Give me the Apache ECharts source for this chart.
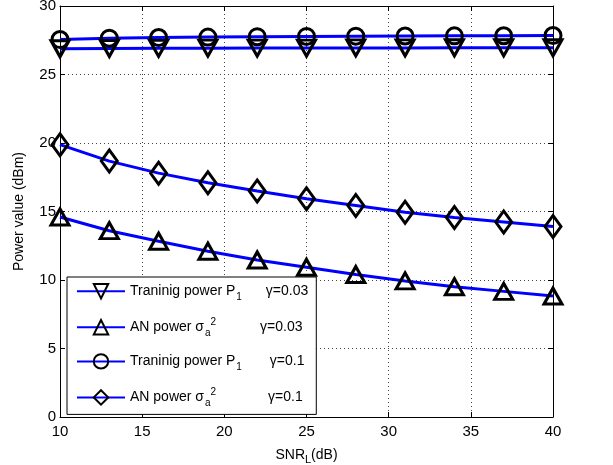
<!DOCTYPE html>
<html>
<head>
<meta charset="utf-8">
<script src="https://cdn.jsdelivr.net/npm/echarts@6/dist/echarts.min.js"></script>
<style>
  html, body { margin: 0; padding: 0; background: #fff; }
  #chart { width: 613px; height: 465px; }
</style>
</head>
<body>
<div id="chart"></div>
<script>
// SNR_L (dB) sample points
var snr = [10, 13, 16, 19, 22, 25, 28, 31, 34, 37, 40];

// power values (dBm)
var trainPowG003 = [26.88, 26.9, 26.91, 26.92, 26.93, 26.93, 26.94, 26.94, 26.95, 26.95, 26.95];
var anPowG003 = [14.6, 13.6, 12.83, 12.1, 11.46, 10.93, 10.4, 9.93, 9.51, 9.17, 8.83];
var trainPowG01 = [27.55, 27.65, 27.7, 27.73, 27.76, 27.78, 27.8, 27.81, 27.82, 27.83, 27.84];
var anPowG01 = [19.88, 18.68, 17.8, 17.1, 16.49, 15.93, 15.44, 14.95, 14.56, 14.24, 13.9];

var xTicks = { min: 10, max: 40, interval: 5 };
var yTicks = { min: 0, max: 30, interval: 5 };

var seriesNames = ['tp003', 'an003', 'tp01', 'an01'];
var legendText = {
  tp003: '{t|Traninig power P}{sub|1}{g|γ=0.03}',
  an003: '{t|AN power σ}{sub|a}{sup|2}{g2|γ=0.03}',
  tp01: '{t|Traninig power P}{sub|1}{g3|γ=0.1}',
  an01: '{t|AN power σ}{sub|a}{sup|2}{g4|γ=0.1}'
};

function pairs(ys) {
  return snr.map(function (x, i) { return [x, ys[i]]; });
}

var chart = echarts.init(document.getElementById('chart'));

var font = 'Liberation Sans, Arial, Helvetica, sans-serif';

function lineSeries(name, ys, symbol, size, rotate) {
  return {
    name: name,
    type: 'line',
    data: pairs(ys),
    symbol: symbol,
    symbolSize: size,
    symbolRotate: rotate || 0,
    showAllSymbol: true,
    lineStyle: { color: '#0000ff', width: 3 },
    itemStyle: { color: 'rgba(255,255,255,0)', borderColor: '#000', borderWidth: 3 },
    emphasis: { disabled: true },
    animation: false,
    z: 3
  };
}

var axisCommon = {
  type: 'value',
  axisLine: { show: true, onZero: false, lineStyle: { color: '#000', width: 1 } },
  axisTick: { show: true, inside: true, length: 5, lineStyle: { color: '#000' } },
  axisLabel: { color: '#000', fontSize: 15, fontFamily: font },
  splitLine: { show: true, lineStyle: { color: '#444', type: [1, 3], width: 1 } }
};

var option = {
  backgroundColor: '#fff',
  animation: false,
  grid: { left: 60, right: 60, top: 6, bottom: 48, show: false, containLabel: false, outerBoundsMode: 'none' },
  legend: {
    orient: 'vertical',
    left: 67,
    top: 277,
    data: seriesNames,
    itemWidth: 48,
    itemHeight: 18,
    itemGap: 15,
    padding: [6, 8, 6, 9],
    backgroundColor: '#fff',
    borderColor: '#000',
    borderWidth: 1,
    borderRadius: 0,
    selectedMode: false,
    formatter: function (name) { return legendText[name]; },
    textStyle: {
      color: '#000',
      fontSize: 14,
      fontFamily: font,
      rich: {
        t: { fontSize: 14, fontFamily: font, color: '#000' },
        sub: { fontSize: 10, fontFamily: font, color: '#000', padding: [12, 0, 0, 1] },
        sup: { fontSize: 10, fontFamily: font, color: '#000', padding: [0, 0, 10, 0] },
        g: { fontSize: 14, fontFamily: font, color: '#000', padding: [0, 0, 0, 24] },
        g2: { fontSize: 14, fontFamily: font, color: '#000', padding: [0, 0, 0, 44] },
        g3: { fontSize: 14, fontFamily: font, color: '#000', padding: [0, 0, 0, 28] },
        g4: { fontSize: 14, fontFamily: font, color: '#000', padding: [0, 0, 0, 52] }
      }
    }
  },
  xAxis: [
    Object.assign({}, axisCommon, {
      min: xTicks.min, max: xTicks.max, interval: xTicks.interval,
      position: 'bottom',
      axisLabel: { color: '#000', fontSize: 15, fontFamily: font, margin: 7 },
      name: '{t|SNR}{sub|L}{t|(dB)}',
      nameLocation: 'middle',
      nameGap: 29,
      nameTextStyle: {
        color: '#000', fontSize: 14, fontFamily: font,
        rich: {
          t: { fontSize: 14, fontFamily: font, color: '#000' },
          sub: { fontSize: 11, fontFamily: font, color: '#000', padding: [8, 0, 0, 0] }
        }
      }
    }),
    Object.assign({}, axisCommon, {
      min: xTicks.min, max: xTicks.max, interval: xTicks.interval,
      position: 'top',
      axisLabel: { show: false },
      splitLine: { show: false }
    })
  ],
  yAxis: [
    Object.assign({}, axisCommon, {
      min: yTicks.min, max: yTicks.max, interval: yTicks.interval,
      position: 'left',
      axisLabel: { color: '#000', fontSize: 15, fontFamily: font, margin: 4 },
      name: 'Power value (dBm)',
      nameLocation: 'middle',
      nameGap: 34,
      nameTextStyle: { color: '#000', fontSize: 14, fontFamily: font }
    }),
    Object.assign({}, axisCommon, {
      min: yTicks.min, max: yTicks.max, interval: yTicks.interval,
      position: 'right',
      axisLabel: { show: false },
      splitLine: { show: false }
    })
  ],
  series: [
    lineSeries('tp003', trainPowG003, 'triangle', [18, 16], 180),
    lineSeries('an003', anPowG003, 'triangle', [18, 16], 0),
    lineSeries('tp01', trainPowG01, 'circle', 16, 0),
    lineSeries('an01', anPowG01, 'diamond', [16, 22], 0)
  ]
};

chart.setOption(option);
</script>
</body>
</html>
